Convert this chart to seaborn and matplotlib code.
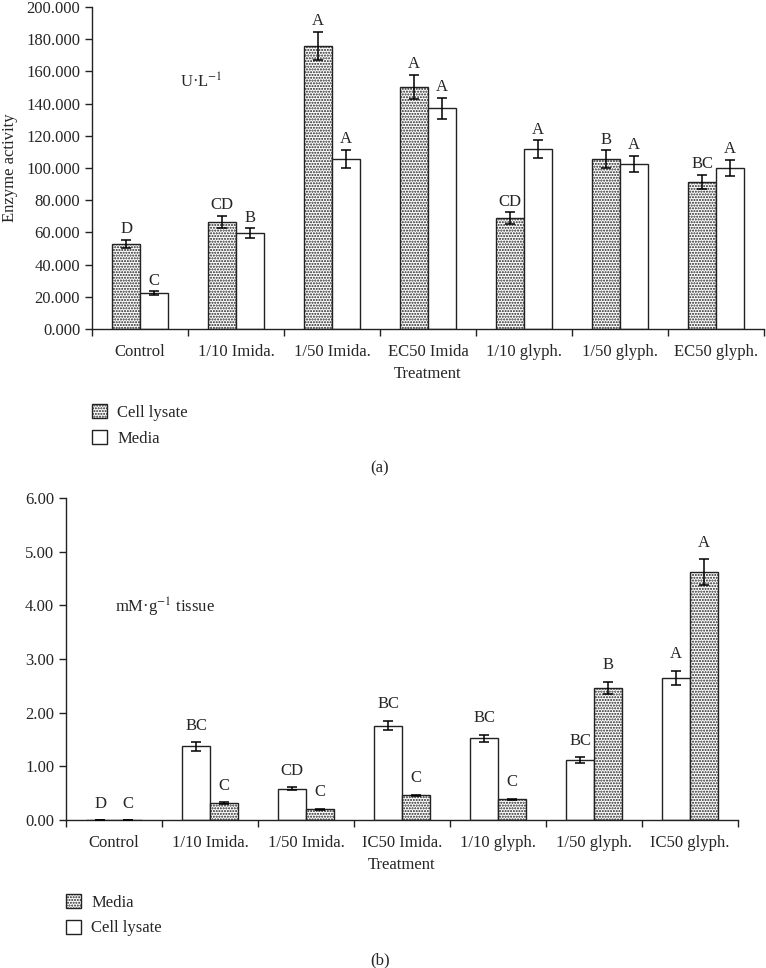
import pandas as pd
import numpy as np
import matplotlib
matplotlib.use('Agg')
import matplotlib.pyplot as plt
import seaborn as sns

# ---- data (a): enzyme activity, U/L ----
treat_a = ['Control', '1/10 Imida.', '1/50 Imida.', 'EC50 Imida',
           '1/10 glyph.', '1/50 glyph.', 'EC50 glyph.']
lysate_a = [52.8, 66.5, 176.0, 150.3, 68.9, 105.6, 91.3]
lysate_a_err = [2.5, 3.6, 8.8, 7.5, 3.5, 5.3, 4.5]
lysate_a_sig = ['D', 'CD', 'A', 'A', 'CD', 'B', 'BC']
media_a = [22.4, 59.6, 105.6, 137.0, 111.8, 102.5, 100.0]
media_a_err = [1.0, 2.9, 5.5, 6.7, 5.4, 5.0, 4.9]
media_a_sig = ['C', 'B', 'A', 'A', 'A', 'A', 'A']

# ---- data (b): mM/g tissue ----
treat_b = ['Control', '1/10 Imida.', '1/50 Imida.', 'IC50 Imida.',
           '1/10 glyph.', '1/50 glyph.', 'IC50 glyph.']
lysate_b = [0.0, 1.37, 0.58, 1.76, 1.52, 1.12, 2.65]
lysate_b_err = [0.0, 0.08, 0.03, 0.09, 0.07, 0.05, 0.13]
lysate_b_sig = ['D', 'BC', 'CD', 'BC', 'BC', 'BC', 'A']
media_b = [0.0, 0.32, 0.20, 0.46, 0.385, 2.46, 4.62]
media_b_err = [0.0, 0.015, 0.01, 0.015, 0.01, 0.12, 0.24]
media_b_sig = ['C', 'C', 'C', 'C', 'C', 'B', 'A']

sns.set_style('ticks')
plt.rcParams['font.family'] = ['Liberation Serif', 'DejaVu Serif']
plt.rcParams['mathtext.fontset'] = 'stix'
plt.rcParams['hatch.linewidth'] = 1.0
FS = 12
EDGE = '#222222'


def long_df(treat, first, second, names):
    return pd.DataFrame({
        'Treatment': treat * 2,
        'value': list(first) + list(second),
        'series': [names[0]] * len(treat) + [names[1]] * len(treat),
    })


def draw_panel(ax, df, order, hue_order, hatches, errs, sigs, sig_offset):
    sns.barplot(data=df, x='Treatment', y='value', hue='series', order=order,
                hue_order=hue_order, palette=['white', 'white'], errorbar=None,
                width=0.58, gap=0, edgecolor=EDGE, linewidth=1.0, legend=False, ax=ax)
    for cont, hatch, err, sig in zip(ax.containers, hatches, errs, sigs):
        xs, tops = [], []
        for bar in cont:
            bar.set_hatch(hatch)
            xs.append(bar.get_x() + bar.get_width() / 2)
            tops.append(bar.get_height())
        ax.errorbar(xs, tops, yerr=err, fmt='none', ecolor='black',
                    elinewidth=1.1, capsize=3.5, capthick=1.1, zorder=5)
        for x, t, e, s in zip(xs, tops, err, sig):
            ax.annotate(s, (x, t + e), xytext=(0, sig_offset), textcoords='offset points',
                        ha='center', va='bottom', fontsize=FS)
    ax.set_xlim(-0.5, len(order) - 0.5)
    ax.set_xticks(np.arange(-0.5, len(order)), minor=True)
    ax.tick_params(axis='x', which='major', length=0, labelsize=FS, pad=11)
    ax.tick_params(axis='x', which='minor', length=5, width=1, color=EDGE, direction='out')
    ax.tick_params(axis='y', length=5, width=1, color=EDGE, labelsize=FS, direction='out')
    ax.set_xlabel('Treatment', fontsize=FS, labelpad=4)
    for s in ['top', 'right']:
        ax.spines[s].set_visible(False)
    for s in ['left', 'bottom']:
        ax.spines[s].set_color(EDGE)
        ax.spines[s].set_linewidth(1.0)


fig = plt.figure(figsize=(7.66, 9.68), dpi=100)

# panel (a)
ax1 = fig.add_axes([0.1201, 0.6601, 0.8773, 0.3326])
df_a = long_df(treat_a, lysate_a, media_a, ['Cell lysate', 'Media'])
draw_panel(ax1, df_a, treat_a, ['Cell lysate', 'Media'], ['......', ''],
           [lysate_a_err, media_a_err], [lysate_a_sig, media_a_sig], 2)
ax1.set_ylim(0, 200)
ax1.set_yticks(np.arange(0, 201, 20))
ax1.set_yticklabels([f'{v:.3f}' for v in np.arange(0, 201, 20)])
ax1.set_ylabel('Enzyme activity', fontsize=FS, labelpad=6)
ax1.text(0.131, 0.767, 'U·L$^{-1}$', transform=ax1.transAxes, fontsize=FS,
         ha='left', va='center')
h1 = [plt.Rectangle((0, 0), 1, 1, facecolor='white', edgecolor=EDGE, hatch='......'),
      plt.Rectangle((0, 0), 1, 1, facecolor='white', edgecolor=EDGE)]
fig.legend(h1, ['Cell lysate', 'Media'], loc='upper left',
           bbox_to_anchor=(0.101, 1 - 389 / 968), frameon=False, fontsize=FS,
           handlelength=0.9, handleheight=0.9, handletextpad=0.6, labelspacing=0.55)
fig.text(380 / 766, 1 - 468 / 968, '(a)', fontsize=FS, ha='center', va='center')

# panel (b)
ax2 = fig.add_axes([0.0862, 0.1529, 0.8773, 0.3326])
df_b = long_df(treat_b, lysate_b, media_b, ['Cell lysate', 'Media'])
draw_panel(ax2, df_b, treat_b, ['Cell lysate', 'Media'], ['', '......'],
           [lysate_b_err, media_b_err], [lysate_b_sig, media_b_sig], 6)
ax2.set_ylim(0, 6)
ax2.set_yticks(np.arange(0, 7, 1))
ax2.set_yticklabels([f'{v:.2f}' for v in np.arange(0, 7, 1)])
ax2.set_ylabel('')
ax2.text(0.073, 0.661, 'mM·g$^{-1}$ tissue', transform=ax2.transAxes, fontsize=FS,
         ha='left', va='center')
h2 = [plt.Rectangle((0, 0), 1, 1, facecolor='white', edgecolor=EDGE, hatch='......'),
      plt.Rectangle((0, 0), 1, 1, facecolor='white', edgecolor=EDGE)]
fig.legend(h2, ['Media', 'Cell lysate'], loc='upper left',
           bbox_to_anchor=(0.067, 1 - 879 / 968), frameon=False, fontsize=FS,
           handlelength=0.9, handleheight=0.9, handletextpad=0.6, labelspacing=0.55)
fig.text(380 / 766, 1 - 960 / 968, '(b)', fontsize=FS, ha='center', va='center')

fig.savefig('out.png', dpi=100, facecolor='white')
